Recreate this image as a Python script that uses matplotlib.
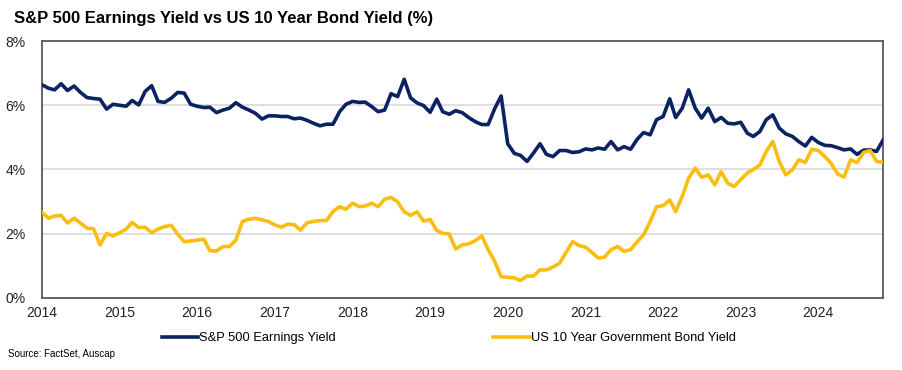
import numpy as np
import pandas as pd
import matplotlib
matplotlib.use("Agg")
import matplotlib.pyplot as plt

plt.rcParams["font.family"] = ["Liberation Sans", "DejaVu Sans"]

# ===== data (monthly, Jan 2014 - Nov 2024) =====
earnings_yield = [
    6.64, 6.53, 6.48, 6.67, 6.46, 6.60, 6.40, 6.24, 6.21, 6.19, 5.88, 6.03,
    6.00, 5.97, 6.15, 6.01, 6.43, 6.61, 6.12, 6.09, 6.22, 6.40, 6.38, 6.03,
    5.97, 5.93, 5.94, 5.77, 5.85, 5.91, 6.08, 5.94, 5.85, 5.75, 5.57, 5.67,
    5.67, 5.65, 5.65, 5.58, 5.60, 5.53, 5.44, 5.36, 5.41, 5.41, 5.80, 6.03,
    6.12, 6.09, 6.10, 5.96, 5.80, 5.85, 6.36, 6.27, 6.81, 6.23, 6.07, 5.99,
    5.78, 6.19, 5.80, 5.72, 5.83, 5.77, 5.62, 5.49, 5.40, 5.40, 5.90, 6.29,
    4.80, 4.50, 4.44, 4.25, 4.51, 4.80, 4.47, 4.40, 4.59, 4.59, 4.53, 4.55,
    4.64, 4.61, 4.67, 4.63, 4.87, 4.61, 4.71, 4.63, 4.94, 5.15, 5.08, 5.55,
    5.65, 6.20, 5.62, 5.91, 6.48, 5.91, 5.60, 5.91, 5.49, 5.62, 5.44, 5.42,
    5.47, 5.13, 5.03, 5.18, 5.55, 5.70, 5.29, 5.11, 5.03, 4.87, 4.73, 5.00,
    4.84, 4.75, 4.74, 4.68, 4.61, 4.64, 4.47, 4.60, 4.61, 4.56, 4.92,
]
bond_yield = [
    2.66, 2.48, 2.55, 2.57, 2.33, 2.48, 2.33, 2.17, 2.15, 1.65, 2.01, 1.93,
    2.03, 2.14, 2.35, 2.19, 2.20, 2.03, 2.14, 2.22, 2.26, 1.99, 1.75, 1.77,
    1.80, 1.83, 1.47, 1.46, 1.60, 1.60, 1.80, 2.38, 2.45, 2.48, 2.43, 2.38,
    2.27, 2.20, 2.30, 2.28, 2.11, 2.34, 2.38, 2.41, 2.41, 2.69, 2.84, 2.76,
    2.95, 2.84, 2.86, 2.95, 2.84, 3.07, 3.13, 2.99, 2.68, 2.57, 2.68, 2.39,
    2.44, 2.10, 2.01, 1.99, 1.52, 1.65, 1.68, 1.78, 1.93, 1.50, 1.13, 0.66,
    0.64, 0.62, 0.54, 0.68, 0.68, 0.87, 0.87, 0.96, 1.08, 1.41, 1.75, 1.63,
    1.58, 1.41, 1.24, 1.27, 1.50, 1.60, 1.45, 1.50, 1.75, 1.96, 2.38, 2.84,
    2.87, 3.05, 2.69, 3.16, 3.73, 4.04, 3.76, 3.83, 3.52, 3.93, 3.57, 3.47,
    3.68, 3.89, 4.00, 4.14, 4.56, 4.87, 4.25, 3.83, 3.99, 4.30, 4.22, 4.63,
    4.59, 4.40, 4.19, 3.86, 3.76, 4.30, 4.22, 4.53, 4.59, 4.25, 4.22,
]
dates = pd.date_range("2014-01-01", periods=len(earnings_yield), freq="MS")
year_ticks = pd.date_range("2014-01-01", "2024-01-01", freq="YS")
year_labels = [str(d.year) for d in year_ticks]

# ===== plot =====
fig = plt.figure(figsize=(9.03, 3.70), dpi=100)
ax = fig.add_axes([0.0465, 0.195, 0.9315, 0.694])

ax.plot(dates, earnings_yield, color="#0b2263", linewidth=2.6,
        solid_joinstyle="round", label="S&P 500 Earnings Yield", zorder=3)
ax.plot(dates, bond_yield, color="#fcbd13", linewidth=2.6,
        solid_joinstyle="round", label="US 10 Year Government Bond Yield", zorder=3)

ax.set_xlim(dates[0], dates[-1])
ax.set_ylim(0, 8)
ax.set_yticks([0, 2, 4, 6, 8])
ax.set_yticklabels([f"{v}%" for v in [0, 2, 4, 6, 8]])
ax.set_xticks(year_ticks)
ax.set_xticklabels(year_labels)
ax.tick_params(axis="both", length=0, labelsize=10, colors="#222222")
ax.tick_params(axis="y", pad=12)
ax.tick_params(axis="x", pad=6)
ax.grid(axis="y", color="#d9d9d9", linewidth=1.2, zorder=0)
for sp in ax.spines.values():
    sp.set_color("#595959")
    sp.set_linewidth(1.3)

fig.text(0.015, 0.95, "S&P 500 Earnings Yield vs US 10 Year Bond Yield (%)",
         fontsize=12, fontweight="bold", va="center", ha="left")
fig.legend(loc="center", bbox_to_anchor=(0.497, 0.086), ncol=2, frameon=False,
           fontsize=9.3, handlelength=2.8, handletextpad=0.1, columnspacing=12.2)
fig.text(0.009, 0.043, "Source: FactSet, Auscap", fontsize=7, va="center", ha="left")

fig.savefig("out.png", dpi=100)
plt.close(fig)
